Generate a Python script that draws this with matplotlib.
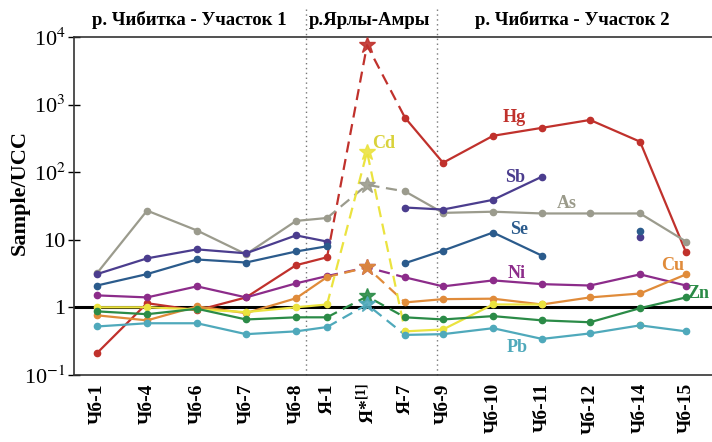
import numpy as np
import matplotlib
matplotlib.use('Agg')
import matplotlib.pyplot as plt

plt.rcParams['font.family'] = ['Liberation Serif', 'DejaVu Serif']
plt.rcParams['mathtext.fontset'] = 'stix'

# samples along the profile
samples = ['Чб-1', 'Чб-4', 'Чб-6', 'Чб-7', 'Чб-8', 'Я-1', 'Я*$^{\\mathregular{[1]}}$', 'Я-7',
           'Чб-9', 'Чб-10', 'Чб-11', 'Чб-12', 'Чб-14', 'Чб-15']
# horizontal placement of the samples (uneven in the original)
xpos = [97, 147, 197, 246, 296, 327, 367, 405, 443, 493, 542, 590, 640, 686]

N = None
hg = [0.21, 1.15, 0.9, 1.4, 4.2, 5.5, 7600, 640, 138, 346, 454, 594, 283, 6.5]
sb = [3.1, 5.3, 7.2, 6.3, 11.6, 9.4, N, 30, 28, 39, 86, N, 11, N]
as_ = [3.2, 27, 13.7, 6.1, 19, 21, 65, 52, 25, 26, 24.5, 24.5, 24.5, 9.4]
se = [2.1, 3.1, 5.1, 4.6, 6.7, 8.0, N, 4.5, 6.9, 12.8, 5.8, N, 13.5, N]
ni = [1.5, 1.4, 2.04, 1.4, 2.26, 2.9, 3.9, 2.77, 2.04, 2.5, 2.2, 2.1, 3.07, 2.1]
cu = [0.76, 0.64, 1.03, 0.82, 1.36, 2.8, 3.9, 1.18, 1.32, 1.34, 1.1, 1.4, 1.6, 3.07]
cd = [1.0, 1.0, 0.93, 0.85, 1.0, 1.1, 200, 0.44, 0.47, 1.1, 1.1, N, 0.54, N]
zn = [0.87, 0.79, 0.95, 0.66, 0.71, 0.71, 1.45, 0.71, 0.66, 0.74, 0.64, 0.6, 0.97, 1.4]
pb = [0.52, 0.58, 0.58, 0.4, 0.44, 0.51, 1.1, 0.39, 0.4, 0.49, 0.34, 0.41, 0.54, 0.44]

series = [
    ('Hg', hg, '#c0312c'),
    ('As', as_, '#9b9b8d'),
    ('Sb', sb, '#4b3d8e'),
    ('Se', se, '#2b5b8c'),
    ('Ni', ni, '#8c2c8a'),
    ('Cu', cu, '#e08b3a'),
    ('Cd', cd, '#ebe33f'),
    ('Zn', zn, '#2b8b47'),
    ('Pb', pb, '#4fa9bb'),
]
label_pos = {'Hg': (514, 118), 'Sb': (515, 178), 'As': (567, 203), 'Se': (519, 230),
             'Ni': (517, 273), 'Pb': (517, 348), 'Cu': (673, 265), 'Zn': (698, 294),
             'Cd': (384, 143)}
label_col = {'Cd': '#d9d23a', 'As': '#9a9a8a'}

fig = plt.figure(figsize=(7.12, 4.42), dpi=100)
ax = fig.add_axes([0.104, 0.152, 0.92, 0.764])

ax.set_yscale('log')
ax.set_ylim(0.1, 1e4)
ax.set_xlim(74, 74 + 0.92 * 712)

ax.axhline(1, color='black', lw=2.2, zorder=1.5)

ys = 6  # index of Я*
x = np.array(xpos, dtype=float)
for name, vals, col in series:
    v = np.array([np.nan if a is None else a for a in vals], dtype=float)
    solid = v.copy()
    solid[ys] = np.nan
    ax.plot(x, solid, '-', color=col, lw=1.6, marker='o', ms=4.5, zorder=3)
    if not np.isnan(v[ys]):
        ax.plot(x[ys - 1:ys + 2], v[ys - 1:ys + 2], '--', color=col, lw=1.6,
                dashes=(5, 3), zorder=2.5)
        ax.plot(x[ys], v[ys], '*', color=col, ms=12, mec=col, mfc=col, zorder=4, alpha=0.9)
    lx, ly = label_pos[name]
    ax.annotate(name, xy=(lx, 442 - ly), xycoords='figure pixels', ha='center', va='center',
                fontsize=13, fontweight='bold', color=label_col.get(name, col),
                annotation_clip=False)

# dotted separators of the river sections
for xs in (306, 437):
    ax.axvline(xs, ymin=0, ymax=1.085, color='#777777', lw=1, ls=(0, (1, 2.5)), clip_on=False, zorder=1)

for txt, xc in (('р. Чибитка - Участок 1', 189), ('р.Ярлы-Амры', 369), ('р. Чибитка - Участок 2', 572)):
    ax.text(xc, 1.05, txt, transform=ax.get_xaxis_transform(), ha='center', va='center',
            fontsize=13.5, fontweight='bold')

ax.set_yticks([0.1, 1, 10, 100, 1000, 10000])
ax.set_yticklabels(['10$^{-1}$', '1', '10', '10$^{2}$', '10$^{3}$', '10$^{4}$'], fontsize=16)
ax.yaxis.set_minor_locator(matplotlib.ticker.NullLocator())
ax.tick_params(axis='y', direction='inout', length=8, width=1, pad=2)
ax.set_ylabel('Sample/UCC', fontsize=16, fontweight='bold')
ax.yaxis.set_label_coords(-0.067, 0.54)

ax.set_xticks(xpos)
ax.set_xticklabels(samples, rotation=90, fontsize=14, fontweight='bold')
ax.tick_params(axis='x', length=0, pad=6)

ax.spines['right'].set_visible(False)
for s in ('left', 'bottom', 'top'):
    ax.spines[s].set_color('#333333')
    ax.spines[s].set_linewidth(1.2)

fig.savefig('out.png', dpi=100)
